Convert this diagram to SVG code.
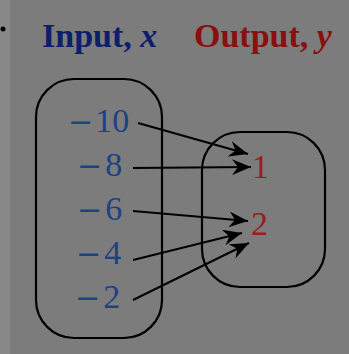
<svg xmlns="http://www.w3.org/2000/svg" width="349" height="354" viewBox="0 0 349 354">
<defs>
<style>
.hdr{font-family:"Liberation Serif","Times New Roman",serif;font-weight:bold;font-size:34px}
.num{font-family:"Liberation Serif","Times New Roman",serif;font-size:34px;fill:#1c4282}
.out{font-family:"Liberation Serif","Times New Roman",serif;font-size:34px;fill:#9a1c1c}
.mn{font-family:"DejaVu Serif",serif;font-size:30px}
.box{fill:none;stroke:#000;stroke-width:2.2}
.arr{fill:none;stroke:#000;stroke-width:2;marker-end:url(#ah)}
</style>
<marker id="ah" markerUnits="userSpaceOnUse" markerWidth="20" markerHeight="16" refX="19" refY="8" orient="auto" viewBox="0 0 20 16">
<path d="M0,0 L19,8 L0,16 L6,8 Z" fill="#000"/>
</marker>
</defs>
<rect x="0" y="0" width="349" height="354" fill="#7c7c7c"/>
<rect x="0" y="0" width="10" height="354" fill="#888888"/>
<circle cx="3" cy="29" r="2.5" fill="#000"/>
<g id="header-input"><text class="hdr" x="42" y="47" fill="#0d1f6b">Input, <tspan font-style="italic">x</tspan></text></g>
<g id="header-output"><text class="hdr" x="194" y="47" fill="#8a0f0f">Output, <tspan font-style="italic">y</tspan></text></g>
<g id="input-set">
<rect class="box" x="36" y="79" width="126" height="259" rx="38" ry="38"/>
<text class="num" x="68" y="132"><tspan class="mn">−</tspan><tspan dx="2">10</tspan></text>
<text class="num" x="77" y="176"><tspan class="mn">−</tspan><tspan dx="3">8</tspan></text>
<text class="num" x="77" y="220"><tspan class="mn">−</tspan><tspan dx="3">6</tspan></text>
<text class="num" x="76" y="264"><tspan class="mn">−</tspan><tspan dx="3">4</tspan></text>
<text class="num" x="75" y="308"><tspan class="mn">−</tspan><tspan dx="3">2</tspan></text>
</g>
<g id="output-set">
<rect class="box" x="202" y="132" width="123" height="155" rx="38" ry="38"/>
<text class="out" x="252" y="178">1</text>
<text class="out" x="251" y="235">2</text>
</g>
<g id="connectors">
<line class="arr" x1="138" y1="123" x2="248" y2="154"/>
<line class="arr" x1="133" y1="168" x2="251" y2="167"/>
<line class="arr" x1="133" y1="211" x2="248" y2="221"/>
<line class="arr" x1="133" y1="260" x2="242" y2="233"/>
<line class="arr" x1="133" y1="300" x2="249" y2="243"/>
</g>
</svg>
